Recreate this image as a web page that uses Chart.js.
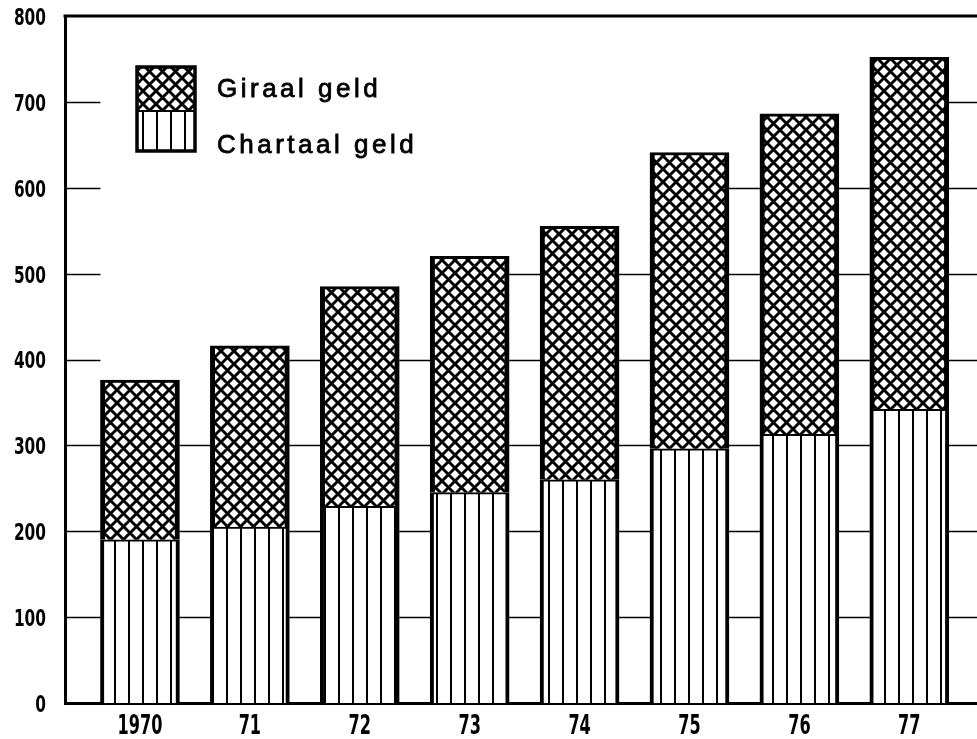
<!DOCTYPE html>
<html><head><meta charset="utf-8">
<script src="https://cdn.jsdelivr.net/npm/chart.js@4/dist/chart.umd.min.js"></script>
<style>html,body{margin:0;padding:0;background:#fff;} #wrap{width:977px;height:739px;position:relative;}</style>
</head><body><div id="wrap"><canvas id="c" width="977" height="739"></canvas></div>
<script>
// ---- data ----
const years = ['1970', '71', '72', '73', '74', '75', '76', '77'];
const chartaalGeld = [190, 205, 229, 245, 260, 296, 313, 342];
const giraalGeld = [186, 211, 256, 275, 295, 345, 373, 410];
const yTickValues = [0, 100, 200, 300, 400, 500, 600, 700, 800];
const seriesNames = ['Giraal geld', 'Chartaal geld'];

// ---- hatch patterns ----
function crossPattern() {
  const s = 13, c = document.createElement('canvas');
  c.width = s; c.height = s;
  const g = c.getContext('2d');
  g.fillStyle = '#fff'; g.fillRect(0, 0, s, s);
  g.strokeStyle = '#000'; g.lineWidth = 2.9;
  g.beginPath();
  g.moveTo(-3, -3); g.lineTo(s + 3, s + 3);
  g.moveTo(s + 3, -3); g.lineTo(-3, s + 3);
  g.stroke();
  return g.createPattern(c, 'repeat');
}
function vertPattern() {
  const s = 14, c = document.createElement('canvas');
  c.width = s; c.height = s;
  const g = c.getContext('2d');
  g.fillStyle = '#fff'; g.fillRect(0, 0, s, s);
  g.fillStyle = '#000'; g.fillRect(2, 0, 2, s);
  return g.createPattern(c, 'repeat');
}
const crossFill = crossPattern();
const vertFill = vertPattern();

const tickFont = "'DejaVu Sans Condensed', 'Liberation Sans Narrow', 'DejaVu Sans', sans-serif";

// draw condensed text whose digits are about digitW wide
function condensedText(ctx, text, x, y, size, digitW, align) {
  ctx.save();
  ctx.font = 'bold ' + size + 'px ' + tickFont;
  const w = ctx.measureText(text).width;
  const sx = (digitW * text.length) / w;
  ctx.translate(x, y);
  ctx.scale(sx, 1);
  ctx.textAlign = align;
  ctx.textBaseline = 'middle';
  ctx.fillStyle = '#000';
  ctx.fillText(text, 0, 0);
  ctx.restore();
}

const drawPlugin = {
  id: 'drawExtras',
  beforeDraw(chart) {
    const ctx = chart.ctx;
    ctx.save(); ctx.fillStyle = '#fff';
    ctx.fillRect(0, 0, chart.width, chart.height); ctx.restore();
  },
  // stepped grid lines: only in the gaps next to bars that reach the level
  beforeDatasetsDraw(chart) {
    const ctx = chart.ctx, area = chart.chartArea, ys = chart.scales.y;
    const bars = chart.getDatasetMeta(1).data;
    ctx.save();
    ctx.strokeStyle = '#000'; ctx.lineWidth = 1.6;
    yTickValues.forEach(v => {
      if (v <= 0 || v >= 800) return;
      const py = Math.round(ys.getPixelForValue(v)) + 0.5;
      ctx.beginPath();
      ctx.moveTo(area.left, py);
      ctx.lineTo(bars[0].x - bars[0].width / 2, py);
      bars.forEach((b, i) => {
        const total = chartaalGeld[i] + giraalGeld[i];
        if (total >= v) {
          const next = bars[i + 1];
          ctx.moveTo(b.x + b.width / 2, py);
          ctx.lineTo(next ? next.x - next.width / 2 : area.right, py);
        }
      });
      ctx.stroke();
    });
    ctx.restore();
  },
  afterDraw(chart) {
    const ctx = chart.ctx, area = chart.chartArea;
    const xs = chart.scales.x, ys = chart.scales.y;
    ctx.save();
    // top frame line
    ctx.strokeStyle = '#000'; ctx.lineWidth = 3;
    ctx.beginPath();
    ctx.moveTo(area.left - 1.5, area.top);
    ctx.lineTo(area.right, area.top);
    ctx.stroke();
    ctx.restore();

    // axis tick labels (condensed bold), placed through the scales
    yTickValues.forEach(v => {
      condensedText(ctx, String(v), area.left - 19, ys.getPixelForValue(v) + 3, 23, 10.7, 'right');
    });
    years.forEach((y, i) => {
      condensedText(ctx, y, xs.getPixelForValue(i), area.bottom + 24, 26, 11.2, 'center');
    });

    // legend
    ctx.save();
    const lx = 137, ly = 67, lw = 58, lh = 84, split = 111;
    ctx.fillStyle = crossFill; ctx.fillRect(lx, ly, lw, split - ly);
    ctx.fillStyle = vertFill; ctx.fillRect(lx, split, lw, ly + lh - split);
    ctx.strokeStyle = '#000';
    ctx.lineWidth = 3.5; ctx.strokeRect(lx, ly, lw, lh);
    ctx.lineWidth = 2;
    ctx.beginPath(); ctx.moveTo(lx, split); ctx.lineTo(lx + lw, split); ctx.stroke();
    ctx.fillStyle = '#000';
    ctx.font = "26px 'Liberation Sans', Arial, sans-serif";
    try { ctx.letterSpacing = '3.5px'; } catch (e) {}
    ctx.textBaseline = 'alphabetic'; ctx.textAlign = 'left';
    ctx.lineWidth = 0.8;
    ctx.fillText(seriesNames[0], 217, 97);
    ctx.strokeText(seriesNames[0], 217, 97);
    ctx.fillText(seriesNames[1], 217, 153);
    ctx.strokeText(seriesNames[1], 217, 153);
    ctx.restore();
  }
};

new Chart(document.getElementById('c'), {
  type: 'bar',
  data: {
    datasets: [
      {
        label: seriesNames[1],
        data: years.map((y, i) => ({ x: i, y: chartaalGeld[i] })),
        backgroundColor: vertFill,
        borderColor: '#000',
        borderWidth: { left: 4, right: 4, top: 2, bottom: 0 },
        borderSkipped: false,
        barThickness: 79
      },
      {
        label: seriesNames[0],
        data: years.map((y, i) => ({ x: i, y: giraalGeld[i] })),
        backgroundColor: crossFill,
        borderColor: '#000',
        borderWidth: { left: 5, right: 5, top: 3, bottom: 0 },
        borderSkipped: false,
        barThickness: 79
      }
    ]
  },
  options: {
    responsive: false,
    animation: false,
    events: [],
    layout: { padding: { top: 16, right: 0, bottom: 0, left: 0 } },
    plugins: { legend: { display: false }, tooltip: { enabled: false } },
    scales: {
      x: {
        type: 'linear',
        stacked: true,
        offset: false,
        min: -0.682,
        max: 7.616,
        afterBuildTicks(scale) { scale.ticks = years.map((y, i) => ({ value: i })); },
        afterFit(scale) { scale.height = 36; scale.paddingLeft = 0; scale.paddingRight = 0; },
        grid: { display: false, drawTicks: false, offset: false },
        border: { display: true, color: '#000', width: 3 },
        ticks: { display: false }
      },
      y: {
        stacked: true,
        min: 0,
        max: 800,
        afterBuildTicks(scale) { scale.ticks = yTickValues.map(v => ({ value: v })); },
        afterFit(scale) { scale.width = 65; scale.paddingTop = 0; scale.paddingBottom = 0; },
        grid: { display: false, drawTicks: false },
        border: { display: true, color: '#000', width: 3 },
        ticks: { display: false }
      }
    }
  },
  plugins: [drawPlugin]
});
</script>
</body></html>
